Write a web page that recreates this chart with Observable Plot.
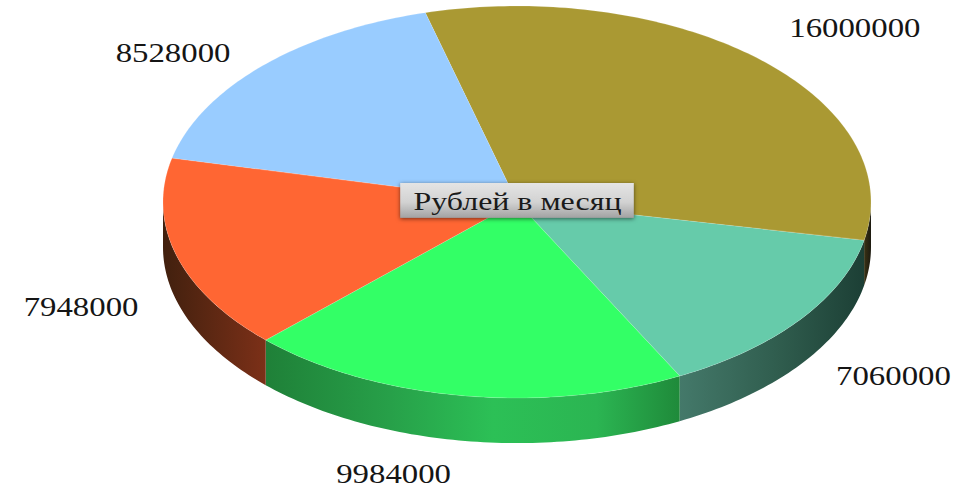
<!DOCTYPE html>
<html lang="ru">
<head>
<meta charset="utf-8">
<script src="https://cdn.jsdelivr.net/npm/d3@7"></script>
<script src="https://cdn.jsdelivr.net/npm/@observablehq/plot@0.6"></script>
<style>
html,body{margin:0;padding:0;background:#fff;}
svg{display:block;}
</style>
</head>
<body>
<div id="chart"></div>
<script>
const labels = ["16000000","7060000","9984000","7948000","8528000"];
const values = [16000000,7060000,9984000,7948000,8528000];
const topColors = ["#aa9933","#66cbaa","#33ff66","#ff6633","#99ccff"];
const centerTitle = "Рублей в месяц";

// layout, in units of the pie radius
const startDeg = -15;
const depth = 0.23;
const labelPlaces = [[0.953,-0.888],[1.062,0.888],[-0.35,1.385],[-1.233,0.536],[-0.973,-0.76]];
const wallGradients = {
  0: [["0%","#3a3214"],["100%","#1c1a10"]],
  1: [["0%","#44796a"],["55%","#2f5c4d"],["100%","#1c3f35"]],
  2: [["0%","#1f8038"],["30%","#27a049"],["55%","#2cc056"],["80%","#2bb552"],["100%","#1f8a3a"]],
  3: [["0%","#41200e"],["100%","#7c3018"]]
};

const pie = d3.pie().sort(null).value(d => d)
  .startAngle(startDeg * Math.PI / 180)
  .endAngle((startDeg + 360) * Math.PI / 180)(values);

function arcPoints(a0, a1) {
  const n = Math.max(2, Math.ceil((a1 - a0) / (Math.PI / 180)));
  return d3.range(n + 1).map(i => a0 + (a1 - a0) * i / n);
}
const face = pie.flatMap((p, i) => arcPoints(p.startAngle, p.endAngle).map(a => ({
  slice: i, x: Math.sin(a), y: -Math.cos(a), color: topColors[i]
})));

const front0 = Math.PI / 2, front1 = 3 * Math.PI / 2;
const wallMarks = pie.flatMap((p, i) => {
  const a0 = Math.max(p.startAngle, front0), a1 = Math.min(p.endAngle, front1);
  if (a1 <= a0) return [];
  const pts = arcPoints(a0, a1).map(a => ({x: Math.sin(a), y: -Math.cos(a)}));
  return [Plot.area(pts, {
    x1: "x", x2: "x", y1: "y", y2: d => d.y + depth,
    fill: `url(#wall${i})`
  })];
});

const labelRows = labels.map((t, i) => ({t, x: labelPlaces[i][0], y: labelPlaces[i][1]}));

const defs = () => {
  const g = d3.create("svg:g");
  const d = g.append("defs");
  Object.entries(wallGradients).forEach(([k, stops]) => {
    const lg = d.append("linearGradient").attr("id", "wall" + k)
      .attr("x1", 0).attr("x2", 1).attr("y1", 0).attr("y2", 0);
    stops.forEach(([o, c]) => lg.append("stop").attr("offset", o).attr("stop-color", c));
  });
  const b = d.append("linearGradient").attr("id", "boxFill")
    .attr("x1", 0).attr("x2", 0).attr("y1", 0).attr("y2", 1);
  [["0%","#e4e4e4"],["55%","#d2d2d2"],["100%","#a2a2a2"]].forEach(([o, c]) =>
    b.append("stop").attr("offset", o).attr("stop-color", c));
  return g.node();
};

const chart = Plot.plot({
  width: 963, height: 488,
  margin: 0,
  style: {background: "#fff"},
  x: {domain: [-1, 1], range: [163, 871], axis: null},
  y: {domain: [-1, 1], range: [6, 398], axis: null},
  marks: [
    defs,
    ...wallMarks,
    Plot.area(face, {
      x1: 0, y1: 0, x2: "x", y2: "y", z: "slice", fill: "color",
      stroke: "#ffffff", strokeOpacity: 0.25, strokeWidth: 0.6
    }),
    Plot.rect([centerTitle], {
      x1: -0.33, x2: 0.33, y1: -0.097, y2: 0.081,
      fill: "url(#boxFill)",
      imageFilter: "drop-shadow(0px 1px 2px rgba(0,0,0,0.55))"
    }),
    Plot.text([centerTitle], {
      x: 0, y: -0.002, text: d => d,
      fontFamily: "Liberation Serif", fontSize: 26, fill: "#1a1a1a"
    }),
    Plot.text(labelRows, {
      x: "x", y: "y", text: "t",
      fontFamily: "Liberation Serif", fontSize: 27, fill: "#151515"
    })
  ]
});

d3.select(chart).selectAll("text").each(function () {
  const s = this.textContent;
  if (s === centerTitle) {
    this.setAttribute("textLength", 208);
  } else {
    this.setAttribute("textLength", s.length * 16.4);
  }
  this.setAttribute("lengthAdjust", "spacingAndGlyphs");
});

document.getElementById("chart").append(chart);
</script>
</body>
</html>
